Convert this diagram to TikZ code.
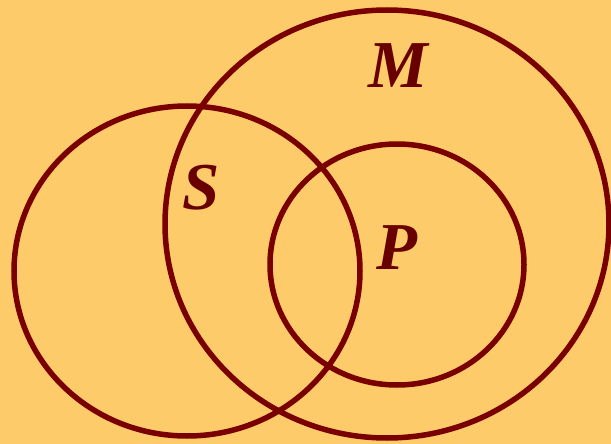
\documentclass[tikz,border=0pt]{standalone}
\usepackage{fontspec}
\setmainfont{Liberation Serif}
\definecolor{bgc}{HTML}{FECB6A}
\definecolor{ringc}{HTML}{7A0000}
\definecolor{txtc}{HTML}{680000}
\tikzset{
  ring/.style={draw=ringc, line width=5.5pt},
  lbl/.style={text=txtc, font=\fontsize{67}{67}\selectfont\bfseries\itshape, inner sep=0pt, anchor=base}
}
\begin{document}
\begin{tikzpicture}[x=1pt,y=-1pt]
\fill[bgc] (0,0) rectangle (611,444);
\useasboundingbox (0,0) rectangle (611,444);
\draw[ring] (387,224) ellipse [x radius=222pt, y radius=214pt];
\draw[ring] (187,271) ellipse [x radius=173pt, y radius=165pt];
\draw[ring] (397,264.5) ellipse [x radius=127pt, y radius=120.5pt];
\node[lbl] (m) at (398,88) {M};
\node[lbl] (s) at (201,209) {S};
\node[lbl] (p) at (397,269) {P};
\end{tikzpicture}
\end{document}
